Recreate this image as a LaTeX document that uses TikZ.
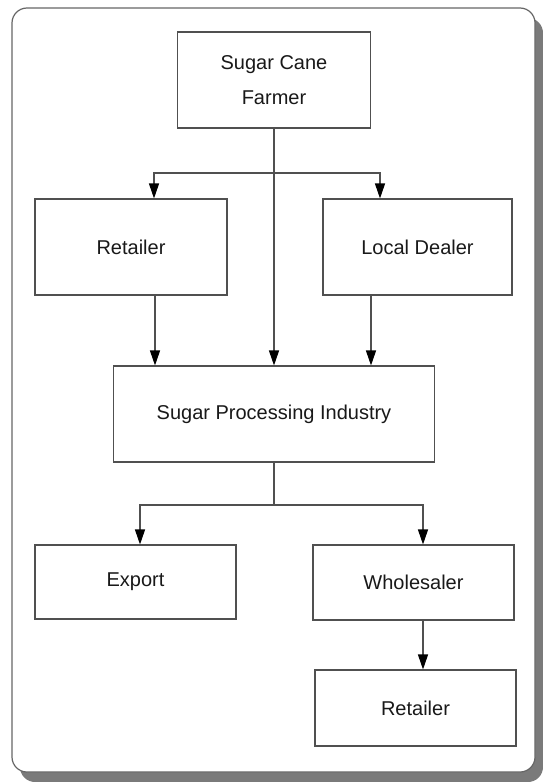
\documentclass[tikz,border=0pt]{standalone}
\usepackage{fontspec}
\setmainfont{Liberation Sans}
\usetikzlibrary{arrows.meta}
\definecolor{edge}{HTML}{505050}
\definecolor{frame}{HTML}{666666}
\definecolor{shadowgray}{HTML}{7A7A7A}
\begin{document}
\begin{tikzpicture}[x=1pt,y=-1pt,
  box/.style={draw=edge,line width=1.1pt,fill=white,inner sep=0pt,
    font=\fontsize{20}{35}\selectfont,align=center,text=black!90},
  arr/.style={draw=edge,line width=1.1pt,-{Triangle[length=15pt,width=10pt,fill=black,color=black]}},
  link/.style={draw=edge,line width=1.1pt}]
\useasboundingbox (0,0) rectangle (543,782);
% frame with drop shadow
\fill[shadowgray,rounded corners=15pt] (20,18) rectangle (543,782);
\draw[frame,fill=white,line width=1.2pt,rounded corners=15pt] (12,8) rectangle (535,772);
% boxes
\node[box,minimum width=193pt,minimum height=96pt] (farmer) at (274,80) {Sugar Cane\\Farmer};
\node[box,minimum width=192pt,minimum height=96pt] (ret1) at (131,247) {Retailer};
\node[box,minimum width=189pt,minimum height=96pt] (dealer) at (417.5,247) {Local Dealer};
\node[box,minimum width=321pt,minimum height=96pt] (proc) at (274,414) {Sugar Processing Industry};
\node[box,minimum width=201pt,minimum height=74pt] (export) at (135.5,582) {Export};
\node[box,minimum width=201pt,minimum height=75pt] (whole) at (413.5,582.5) {Wholesaler};
\node[box,minimum width=201pt,minimum height=76pt] (ret2) at (415.5,708) {Retailer};
% junction points
\coordinate (split1) at (274,173);
\coordinate (split2) at (274,505);
% farmer to the first tier
\draw[arr] (farmer.south) -- (proc.north);
\draw[arr] (split1) -| ([xshift=23pt]ret1.north);
\draw[arr] (split1) -| ([xshift=-37.5pt]dealer.north);
% first tier to processing
\draw[arr] ([xshift=24pt]ret1.south) -- ([xshift=24pt]ret1.south |- proc.north);
\draw[arr] ([xshift=-46.5pt]dealer.south) -- ([xshift=-46.5pt]dealer.south |- proc.north);
% processing to distribution
\draw[link] (proc.south) -- (split2);
\draw[arr] (split2) -| ([xshift=4.5pt]export.north);
\draw[arr] (split2) -| ([xshift=9.5pt]whole.north);
\draw[arr] ([xshift=9.5pt]whole.south) -- ([xshift=9.5pt]whole.south |- ret2.north);
\end{tikzpicture}
\end{document}
